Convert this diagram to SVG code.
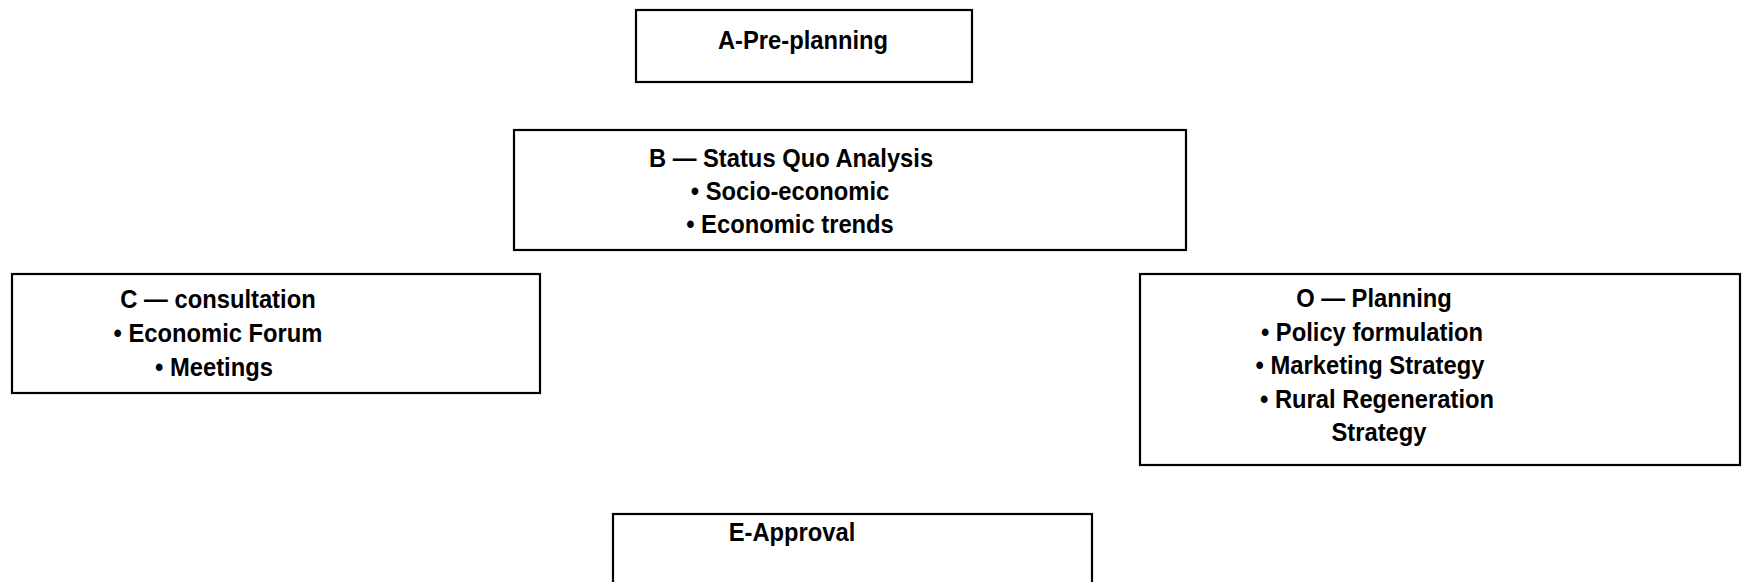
<svg xmlns="http://www.w3.org/2000/svg" width="1745" height="582" viewBox="0 0 1745 582">
  <style>
    .box { fill: #ffffff; stroke: #000000; stroke-width: 2.2; }
    /* tall, slightly condensed bold face: each line is squeezed horizontally by its transform */
    .lbl { font-family: "Liberation Sans", Arial, sans-serif; font-weight: bold; font-size: 26.4px; fill: #000000; text-anchor: middle; }
  </style>
  <rect width="1745" height="582" fill="#ffffff"/>

  <!-- no connectors are drawn between the stages -->
  <g id="connectors"></g>

  <g id="node-a">
    <rect class="box" x="636" y="10" width="336" height="72"/>
    <text class="lbl" transform="translate(803 49) scale(0.9 1)">A-Pre-planning</text>
  </g>

  <g id="node-b">
    <rect class="box" x="514" y="130" width="672" height="120"/>
    <text class="lbl" transform="translate(791 167) scale(0.9 1)">B — Status Quo Analysis</text>
    <text class="lbl" transform="translate(790 200) scale(0.9 1)">• Socio-economic</text>
    <text class="lbl" transform="translate(790 233) scale(0.9 1)">• Economic trends</text>
  </g>

  <g id="node-c">
    <rect class="box" x="12" y="274" width="528" height="119"/>
    <text class="lbl" transform="translate(218 308) scale(0.9 1)">C — consultation</text>
    <text class="lbl" transform="translate(218 342) scale(0.9 1)">• Economic Forum</text>
    <text class="lbl" transform="translate(214 376) scale(0.9 1)">• Meetings</text>
  </g>

  <g id="node-o">
    <rect class="box" x="1140" y="274" width="600" height="191"/>
    <text class="lbl" transform="translate(1374 307) scale(0.9 1)">O — Planning</text>
    <text class="lbl" transform="translate(1372 341) scale(0.9 1)">• Policy formulation</text>
    <text class="lbl" transform="translate(1370 374) scale(0.9 1)">• Marketing Strategy</text>
    <text class="lbl" transform="translate(1377 408) scale(0.9 1)">• Rural Regeneration</text>
    <text class="lbl" transform="translate(1379 441) scale(0.9 1)">Strategy</text>
  </g>

  <g id="node-e">
    <rect class="box" x="613" y="514" width="479" height="90"/>
    <text class="lbl" transform="translate(792 541) scale(0.9 1)">E-Approval</text>
  </g>
</svg>
